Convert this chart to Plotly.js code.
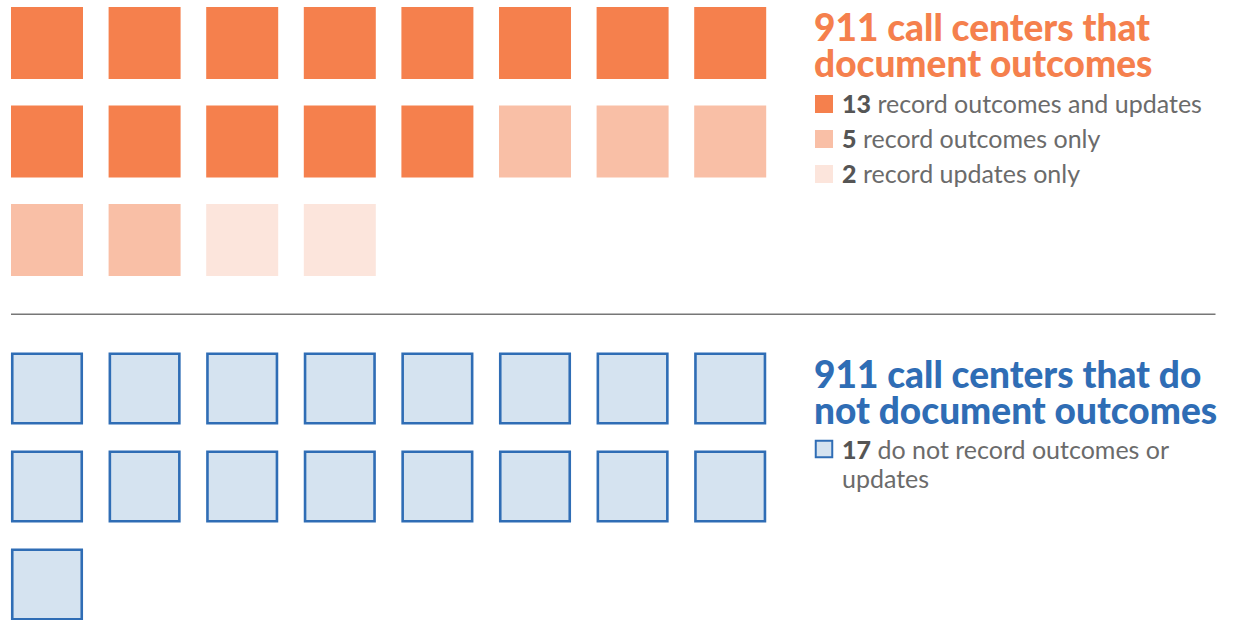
<!DOCTYPE html>
<html><head><meta charset="utf-8">
<script src="https://cdn.plot.ly/plotly-3.0.1.min.js"></script>
<style>html,body{margin:0;padding:0;background:#fff}</style>
</head><body><div id="chart" style="width:1236px;height:620px"></div>
<script>
// ---- data ----
const topCategories = ["record outcomes and updates", "record outcomes only", "record updates only"];
const topCounts = [13, 5, 2];
const bottomCategories = ["do not record outcomes or", "updates"];
const bottomCounts = [17];
const topTitleLines = ["911 call centers that", "document outcomes"];
const bottomTitleLines = ["911 call centers that do", "not document outcomes"];

// ---- styles ----
const topColors = ["#f5804d", "#f9bfa6", "#fce5dc"];
const blueFill = "#d5e3f0", blueLine = "#2f6db5";
const orange = "#f5804d";
const grayText = "#6b6b6b", grayNum = "#555555";
const FONT = "Lato, 'Open Sans', sans-serif";

// ---- layout constants (pixel space) ----
const COLS = 8, X0 = 47, DX = 97.6;
const TOP_Y0 = 43, TOP_DY = 98.5;
const BOT_Y0 = 388.5, BOT_DY = 98;

function waffle(counts, y0, dy) {
  const xs = [], ys = [], groups = [];
  let i = 0;
  counts.forEach((c, g) => {
    for (let k = 0; k < c; k++, i++) {
      xs.push(X0 + DX * (i % COLS));
      ys.push(y0 + dy * Math.floor(i / COLS));
      groups.push(g);
    }
  });
  return {xs, ys, groups};
}

const traces = [];
const tw = waffle(topCounts, TOP_Y0, TOP_DY);
traces.push({
  type: "scatter", mode: "markers", x: tw.xs, y: tw.ys, hoverinfo: "skip",
  marker: {symbol: "square", size: 72, color: tw.groups.map(g => topColors[g]), line: {width: 0}}
});
const bw = waffle(bottomCounts, BOT_Y0, BOT_DY);
traces.push({
  type: "scatter", mode: "markers", x: bw.xs, y: bw.ys, hoverinfo: "skip",
  marker: {symbol: "square", size: 69.5, color: blueFill, line: {width: 2.6, color: blueLine}}
});

// legend markers
const LX = 824;
const topLegendY = [104, 139, 174];
traces.push({
  type: "scatter", mode: "markers", x: topCounts.map(() => LX), y: topLegendY, hoverinfo: "skip",
  marker: {symbol: "square", size: 18, color: topColors, line: {width: 0}}
});
traces.push({
  type: "scatter", mode: "markers", x: [LX], y: [449], hoverinfo: "skip",
  marker: {symbol: "square", size: 16.5, color: blueFill, line: {width: 2, color: blueLine}}
});

const ann = [];
function t(x, y, text, size, color, weight) {
  ann.push({x, y, xref: "x", yref: "y", text, showarrow: false, xanchor: "left", yanchor: "middle",
    align: "left", font: {family: FONT, size, color, weight: weight || 400}});
}
const TX = 812;
t(TX, 26, topTitleLines[0], 37, orange, 900);
t(TX, 62, topTitleLines[1], 37, orange, 900);
t(TX, 373, bottomTitleLines[0], 37, blueLine, 900);
t(TX, 409, bottomTitleLines[1], 37, blueLine, 900);
const LTX = 840;
topCounts.forEach((c, i) => {
  t(LTX, topLegendY[i] - 1, `<span style="font-weight:900;color:${grayNum}">${c}</span> ${topCategories[i]}`, 25, grayText);
});
t(LTX, 448.5, `<span style="font-weight:900;color:${grayNum}">${bottomCounts[0]}</span> ${bottomCategories[0]}`, 25, grayText);
t(LTX, 477.5, bottomCategories[1], 25, grayText);

const layout = {
  width: 1236, height: 620, margin: {l: 0, r: 0, t: 0, b: 0},
  paper_bgcolor: "#fff", plot_bgcolor: "#fff", showlegend: false,
  xaxis: {range: [0, 1236], visible: false, fixedrange: true},
  yaxis: {range: [620, 0], visible: false, fixedrange: true},
  shapes: [{type: "line", xref: "x", yref: "y", x0: 11, x1: 1215.5, y0: 314.3, y1: 314.3,
    line: {color: "#777777", width: 1.5}}],
  annotations: ann
};
Plotly.newPlot("chart", traces, layout, {displayModeBar: false, staticPlot: true});
</script></body></html>
